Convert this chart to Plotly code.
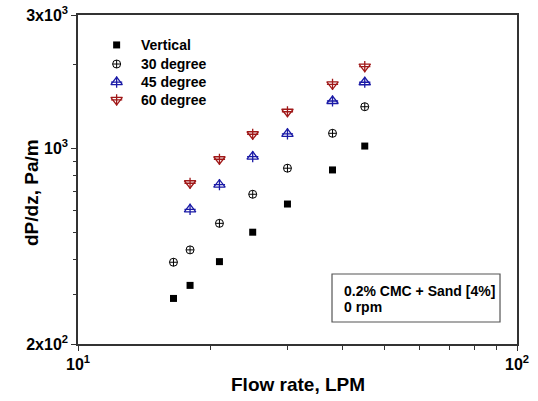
import plotly.graph_objects as go

# ---- data ----
flow_vertical = [16.5, 18, 21, 25, 30, 38, 45]
dpdz_vertical = [291, 324, 394, 502, 633, 838, 1020]

flow_30 = [16.5, 18, 21, 25, 30, 38, 45]
dpdz_30 = [392, 434, 540, 686, 850, 1133, 1410]

flow_45 = [18, 21, 25, 30, 38, 45]
dpdz_45 = [606, 742, 935, 1127, 1478, 1725]

flow_60 = [18, 21, 25, 30, 38, 45]
dpdz_60 = [751, 915, 1124, 1353, 1696, 1960]

legend_labels = ["Vertical", "30 degree", "45 degree", "60 degree"]
x_tickvals = [10, 100]
x_ticktext = ["10<sup>1</sup>", "10<sup>2</sup>"]
x_minor = [20, 30, 40, 50, 60, 70, 80, 90]
y_tickvals = [200, 1000, 3000]
y_ticktext = ["2x10<sup>2</sup>", "10<sup>3</sup>", "3x10<sup>3</sup>"]
y_minor = [300, 400, 500, 600, 700, 800, 900, 2000]

FONT = "Liberation Sans, Arial, sans-serif"
BLUE = "#1a1aa6"
RED = "#a01818"

fig = go.Figure()

def add_series(x, y, symbol, color, size, width=1.2, overlay=None, osize=None):
    fig.add_trace(go.Scatter(
        x=x, y=y, mode="markers", showlegend=False,
        marker=dict(symbol=symbol, size=size, color=color,
                    line=dict(color=color, width=width))))
    if overlay:
        fig.add_trace(go.Scatter(
            x=x, y=y, mode="markers", showlegend=False,
            marker=dict(symbol=overlay, size=osize, color=color,
                        line=dict(color=color, width=width))))

add_series(flow_vertical, dpdz_vertical, "square", "black", 7, 0)
add_series(flow_30, dpdz_30, "circle-cross-open", "black", 8, 1)
add_series(flow_45, dpdz_45, "triangle-up-open", BLUE, 10, 1.3, "cross-thin-open", 8)
add_series(flow_60, dpdz_60, "triangle-down-open", RED, 10, 1.3, "cross-thin-open", 8)

# ---- manual legend on a hidden overlay axis ----
leg_x = 0.088
leg_y = [0.909, 0.851, 0.796, 0.742]
leg_specs = [("square", "black", 7, 0, None),
             ("circle-cross-open", "black", 8, 1, None),
             ("triangle-up-open", BLUE, 10, 1.3, "cross-thin-open"),
             ("triangle-down-open", RED, 10, 1.3, "cross-thin-open")]
for (sym, col, sz, w, ov), yy, lab in zip(leg_specs, leg_y, legend_labels):
    fig.add_trace(go.Scatter(x=[leg_x], y=[yy], xaxis="x2", yaxis="y2",
                             mode="markers", showlegend=False, hoverinfo="skip",
                             marker=dict(symbol=sym, size=sz, color=col,
                                         line=dict(color=col, width=w))))
    if ov:
        fig.add_trace(go.Scatter(x=[leg_x], y=[yy], xaxis="x2", yaxis="y2",
                                 mode="markers", showlegend=False, hoverinfo="skip",
                                 marker=dict(symbol=ov, size=8, color=col,
                                             line=dict(color=col, width=w))))
    fig.add_annotation(x=0.139, y=yy, xref="paper", yref="paper", text=lab,
                       showarrow=False, xanchor="left", yanchor="middle",
                       font=dict(family=FONT, size=14, color="black", weight="bold"))

# ---- info box ----
fig.add_shape(type="rect", xref="paper", yref="paper",
              x0=0.5786, x1=0.9613, y0=0.0669, y1=0.2128,
              line=dict(color="#555555", width=1.2), fillcolor="white", layer="below")
fig.add_annotation(x=0.601, y=(344 - 290.5) / 329, xref="paper", yref="paper",
                   text="0.2% CMC + Sand [4%]", showarrow=False,
                   xanchor="left", yanchor="middle",
                   font=dict(family=FONT, size=14, color="black", weight="bold"))
fig.add_annotation(x=0.601, y=(344 - 306.7) / 329, xref="paper", yref="paper",
                   text="0 rpm", showarrow=False,
                   xanchor="left", yanchor="middle",
                   font=dict(family=FONT, size=14, color="black", weight="bold"))

# ---- axis titles ----
fig.add_annotation(x=0.5, y=(344 - 384) / 329, xref="paper", yref="paper",
                   text="Flow rate, LPM", showarrow=False,
                   xanchor="center", yanchor="middle",
                   font=dict(family=FONT, size=19, color="black", weight="bold"))
fig.add_annotation(x=(31 - 78) / 439, y=(344 - 193) / 329, xref="paper", yref="paper",
                   text="dP/dz, Pa/m", showarrow=False, textangle=-90,
                   xanchor="center", yanchor="middle",
                   font=dict(family=FONT, size=19, color="black", weight="bold"))

axis_common = dict(
    type="log", showgrid=False, zeroline=False, automargin=False,
    showline=True, linecolor="#333333", linewidth=1.5, mirror=True,
    ticks="outside", ticklen=5, tickwidth=1, tickcolor="#333333",
    tickfont=dict(family=FONT, size=16, color="black", weight="bold"),
)

fig.update_layout(
    width=538, height=401,
    margin=dict(l=78, r=21, t=15, b=57),
    paper_bgcolor="white", plot_bgcolor="white",
    xaxis=dict(**axis_common, range=[1, 2],
               tickmode="array", tickvals=x_tickvals, ticktext=x_ticktext,
               minor=dict(tickmode="array", tickvals=x_minor, ticks="outside",
                          ticklen=4, tickcolor="#333333")),
    yaxis=dict(**axis_common, range=[2.30103, 3.47712],
               tickmode="array", tickvals=y_tickvals, ticktext=y_ticktext,
               minor=dict(tickmode="array", tickvals=y_minor, ticks="outside",
                          ticklen=3, tickcolor="#333333")),
    xaxis2=dict(overlaying="x", range=[0, 1], visible=False),
    yaxis2=dict(overlaying="y", range=[0, 1], visible=False),
)

fig.write_html("out.html")
